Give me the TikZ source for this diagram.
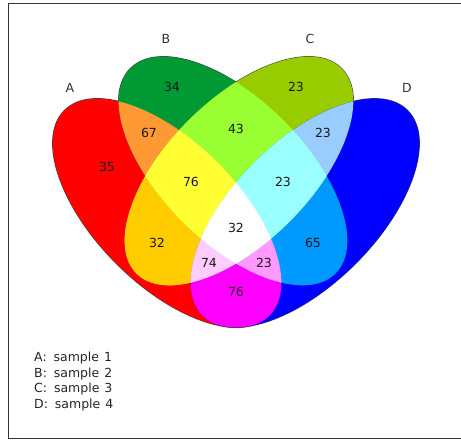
\documentclass[tikz,border=0pt]{standalone}
\usepackage{fontspec}
\setmainfont{DejaVu Sans}
\begin{document}
\begin{tikzpicture}[x=1pt,y=1pt,
  elA/.style={shift={(167,-213)}, rotate=-45},
  elB/.style={shift={(233,-171)}, rotate=-45},
  elC/.style={shift={(239,-171)}, rotate=45},
  elD/.style={shift={(305,-213)}, rotate=45},
  count/.style={font=\fontsize{12.5}{15}\selectfont, text=black!90, inner sep=0pt},
  setname/.style={font=\fontsize{12.5}{15}\selectfont, text=black!80, inner sep=0pt},
  legend/.style={font=\fontsize{12.5}{15}\selectfont, text=black!85, inner sep=0pt, anchor=base west},
  rim/.style={draw=black!75, line width=1.1pt}
]
\definecolor{cA}{HTML}{FF0000}
\definecolor{cB}{HTML}{009933}
\definecolor{cC}{HTML}{99CC00}
\definecolor{cD}{HTML}{0000FF}
\definecolor{cAB}{HTML}{FF9933}
\definecolor{cAC}{HTML}{FFCC00}
\definecolor{cAD}{HTML}{FF00FF}
\definecolor{cBC}{HTML}{99FF33}
\definecolor{cBD}{HTML}{0099FF}
\definecolor{cCD}{HTML}{99CCFF}
\definecolor{cABC}{HTML}{FFFF33}
\definecolor{cABD}{HTML}{FF99FF}
\definecolor{cACD}{HTML}{FFCCFF}
\definecolor{cBCD}{HTML}{99FFFF}
\definecolor{cABCD}{HTML}{FFFFFF}
\newcommand\venshape{(0,0) ellipse [x radius=145pt, y radius=71.5pt]}

\useasboundingbox (0,0) rectangle (461,-440);
\fill[white] (0,0) rectangle (461,-440);

% frame (its right side runs past the page edge)
\draw[line width=1.2pt, draw=black!80] (470,-3.5) -- (8.3,-3.5) -- (8.3,-438.7) -- (470,-438.7);

% outlines first; the fills cover their inner halves
\draw[rim, elA] \venshape;
\draw[rim, elB] \venshape;
\draw[rim, elC] \venshape;
\draw[rim, elD] \venshape;

% single sets
\fill[cA, elA] \venshape;
\fill[cB, elB] \venshape;
\fill[cC, elC] \venshape;
\fill[cD, elD] \venshape;

% pairs
\begin{scope}\clip[elA] \venshape; \fill[cAB, elB] \venshape;\end{scope}
\begin{scope}\clip[elA] \venshape; \fill[cAC, elC] \venshape;\end{scope}
\begin{scope}\clip[elA] \venshape; \fill[cAD, elD] \venshape;\end{scope}
\begin{scope}\clip[elB] \venshape; \fill[cBC, elC] \venshape;\end{scope}
\begin{scope}\clip[elB] \venshape; \fill[cBD, elD] \venshape;\end{scope}
\begin{scope}\clip[elC] \venshape; \fill[cCD, elD] \venshape;\end{scope}

% triples
\begin{scope}\clip[elA] \venshape; \clip[elB] \venshape; \fill[cABC, elC] \venshape;\end{scope}
\begin{scope}\clip[elA] \venshape; \clip[elB] \venshape; \fill[cABD, elD] \venshape;\end{scope}
\begin{scope}\clip[elA] \venshape; \clip[elC] \venshape; \fill[cACD, elD] \venshape;\end{scope}
\begin{scope}\clip[elB] \venshape; \clip[elC] \venshape; \fill[cBCD, elD] \venshape;\end{scope}

% all four
\begin{scope}\clip[elA] \venshape; \clip[elB] \venshape; \clip[elC] \venshape; \fill[cABCD, elD] \venshape;\end{scope}

% set names
\node[setname] (nA) at (70,-88) {A};
\node[setname] (nB) at (166,-39) {B};
\node[setname] (nC) at (310,-39) {C};
\node[setname] (nD) at (407,-88) {D};

% region counts
\node[count] (rA)    at (107,-167) {35};
\node[count] (rB)    at (172,-87)  {34};
\node[count] (rC)    at (296,-87)  {23};
\node[count] (rAB)   at (149,-133) {67};
\node[count] (rBC)   at (236,-129) {43};
\node[count] (rCD)   at (323,-133) {23};
\node[count] (rABC)  at (191,-182) {76};
\node[count] (rBCD)  at (283,-182) {23};
\node[count] (rABCD) at (236,-228) {32};
\node[count] (rAC)   at (157,-243) {32};
\node[count] (rBD)   at (313,-243) {65};
\node[count] (rACD)  at (209,-263) {74};
\node[count] (rABD)  at (264,-263) {23};
\node[count] (rAD)   at (236,-292) {76};

% legend
\node[legend] (l1) at (34,-361.5) {A:\hspace{0.55em}sample\hspace{0.4em}1};
\node[legend] (l2) at (34,-377)   {B:\hspace{0.55em}sample\hspace{0.4em}2};
\node[legend] (l3) at (34,-392.5) {C:\hspace{0.55em}sample\hspace{0.4em}3};
\node[legend] (l4) at (34,-408)   {D:\hspace{0.55em}sample\hspace{0.4em}4};
\end{tikzpicture}
\end{document}
